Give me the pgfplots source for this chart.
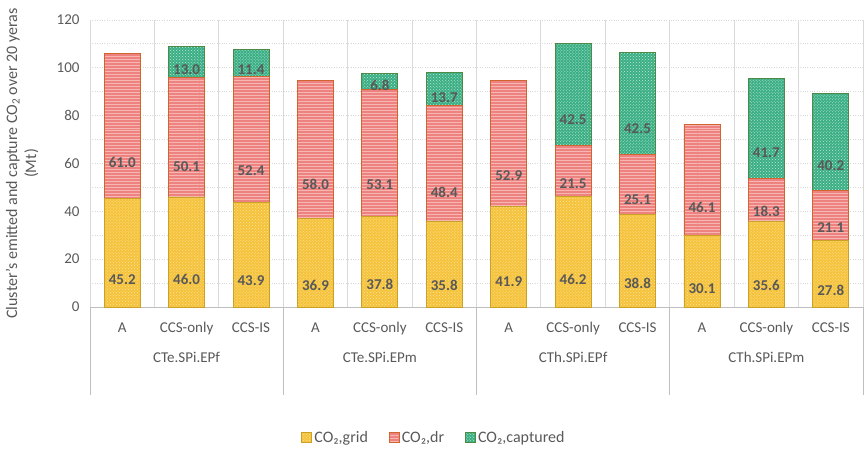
\documentclass[border=0pt]{standalone}
\usepackage{pgfplots}
\pgfplotsset{compat=1.18}
\usepackage{fontspec}
\setmainfont{Carlito}
\usetikzlibrary{patterns}
\definecolor{txt}{HTML}{595959}
\definecolor{gridc}{HTML}{D9D9D9}
\definecolor{axc}{HTML}{BFBFBF}
\definecolor{yfill}{HTML}{F5C23A}
\definecolor{ypat}{HTML}{FBE5A0}
\definecolor{ydraw}{HTML}{C9A227}
\definecolor{rfill}{HTML}{EE8280}
\definecolor{rpat}{HTML}{F6B7B3}
\definecolor{rdraw}{HTML}{D1652F}
\definecolor{gfill}{HTML}{3AAE84}
\definecolor{gpat}{HTML}{C0EAD8}
\definecolor{gdraw}{HTML}{4E8A45}
\newcommand{\f}{\fontsize{15bp}{18bp}\selectfont}
\newcommand{\fl}{\fontsize{16bp}{19bp}\selectfont}
\pgfplotsset{
  base/.style={
    scale only axis, width=773bp, height=287bp,
    xmin=-0.5, xmax=11.5, ymin=0, ymax=120,
    ybar stacked, bar width=36bp,
    clip=false,
    /pgf/number format/assume math mode=true,
    visualization depends on=rawy\as\myrawy,
    nodes near coords, point meta=rawy,
    every node near coord/.style={anchor=center,
      yshift=-\myrawy*0.59791667bp, font=\bfseries\f, text=txt,
      /pgf/number format/fixed, /pgf/number format/fixed zerofill,
      /pgf/number format/precision=1},
  },
  sgrid/.style={fill=yfill, draw=ydraw, line width=0.9bp,
    postaction={pattern=crosshatch dots, pattern color=ypat},
    legend image code/.code={\draw[##1] (0bp,-5bp) rectangle (10bp,5bp);}},
  sdr/.style={fill=rfill, draw=rdraw, line width=0.9bp,
    postaction={pattern=horizontal lines, pattern color=rpat},
    legend image code/.code={\draw[##1] (0bp,-5bp) rectangle (10bp,5bp);}},
  scap/.style={fill=gfill, draw=gdraw, line width=0.9bp,
    postaction={pattern=crosshatch dots, pattern color=gpat},
    legend image code/.code={\draw[##1] (0bp,-5bp) rectangle (10bp,5bp);}},
}
\begin{document}
\begin{tikzpicture}
\useasboundingbox (-90bp,-144bp) rectangle (774bp,307bp);
\begin{axis}[base,
  axis x line*=bottom, axis y line*=left,
  x axis line style={axc, line width=0.9bp, -},
  y axis line style={draw=none},
  xtick={0,...,11},
  xticklabels={A,CCS-only,CCS-IS,A,CCS-only,CCS-IS,A,CCS-only,CCS-IS,A,CCS-only,CCS-IS},
  minor xtick={-0.5,0.5,...,11.5},
  xminorgrids, minor x grid style={gridc, line width=0.9bp},
  major tick length=0pt, minor tick length=0pt,
  ytick={0,20,...,120}, minor ytick={10,30,...,110},
  ymajorgrids, yminorgrids,
  major y grid style={gridc, dotted, line width=0.9bp},
  minor y grid style={gridc, dotted, line width=0.9bp},
  tick style={draw=none},
  yticklabel style={font=\f, text=txt, xshift=-7bp},
  xticklabel style={font=\f, text=txt, anchor=base, yshift=-25bp},
  ylabel={Cluster’s emitted and capture CO\textsubscript{2} over 20 yeras\\(Mt)},
  ylabel style={font=\fl, text=txt, align=center, at={(axis description cs:-0.088,0.5)}, anchor=center},
  legend style={at={(0.445,-0.456)}, anchor=center, draw=none, fill=none,
    legend columns=3, font=\fl, text=txt,
    /tikz/every even column/.append style={column sep=19bp}},
  legend cell align=left,
]
\addplot[sgrid] coordinates {(1,46.0) (2,43.9) (4,37.8) (5,35.8) (7,46.2) (8,38.8) (10,35.6) (11,27.8)};
\addplot[sdr] coordinates {(1,50.1) (2,52.4) (4,53.1) (5,48.4) (7,21.5) (8,25.1) (10,18.3) (11,21.1)};
\addplot[scap] coordinates {(1,13.0) (2,11.4) (4,6.8) (5,13.7) (7,42.5) (8,42.5) (10,41.7) (11,40.2)};
\legend{{CO₂,grid}, {CO₂,dr}, {CO₂,captured}}
\draw[axc, line width=0.9bp] (axis cs:-0.5,0) -- ([yshift=-88bp]axis cs:-0.5,0);
\draw[axc, line width=0.9bp] (axis cs:2.5,0) -- ([yshift=-88bp]axis cs:2.5,0);
\draw[axc, line width=0.9bp] (axis cs:5.5,0) -- ([yshift=-88bp]axis cs:5.5,0);
\draw[axc, line width=0.9bp] (axis cs:8.5,0) -- ([yshift=-88bp]axis cs:8.5,0);
\draw[axc, line width=0.9bp] (axis cs:11.5,0) -- ([yshift=-88bp]axis cs:11.5,0);
\node[font=\f, text=txt, anchor=base, yshift=-55bp] at (axis cs:1,0) {CTe.SPi.EPf};
\node[font=\f, text=txt, anchor=base, yshift=-55bp] at (axis cs:4,0) {CTe.SPi.EPm};
\node[font=\f, text=txt, anchor=base, yshift=-55bp] at (axis cs:7,0) {CTh.SPi.EPf};
\node[font=\f, text=txt, anchor=base, yshift=-55bp] at (axis cs:10,0) {CTh.SPi.EPm};
\end{axis}
\begin{axis}[base, hide axis]
\addplot[sgrid] coordinates {(0,45.2) (3,36.9) (6,41.9) (9,30.1)};
\addplot[sdr] coordinates {(0,61.0) (3,58.0) (6,52.9) (9,46.1)};
\end{axis}
\end{tikzpicture}
\end{document}
